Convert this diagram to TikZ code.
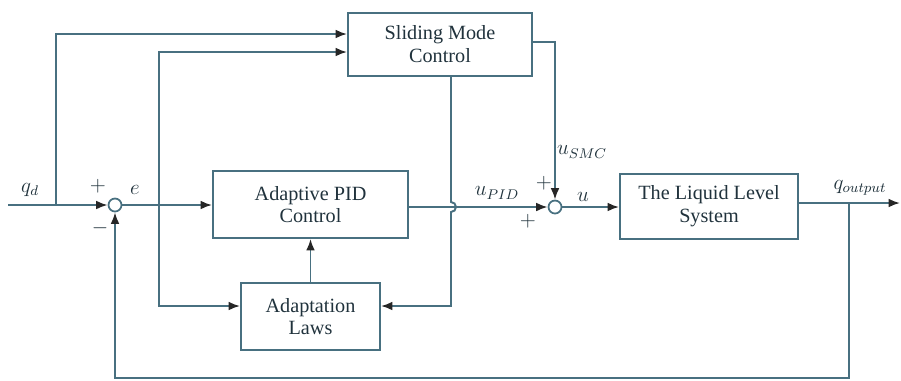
\documentclass[tikz,border=0pt]{standalone}
\usepackage{fontspec}
\setmainfont{Liberation Serif}
\usetikzlibrary{arrows.meta}
\definecolor{wire}{RGB}{72,112,128}
\definecolor{ink}{RGB}{32,50,60}
\begin{document}
\begin{tikzpicture}[x=0.02cm, y=-0.02cm,
    every node/.style={font=\fontsize{11.5}{13}\selectfont, text=ink},
    block/.style={rectangle, draw=wire, line width=1.1pt, align=center, inner sep=0pt},
    sumnode/.style={circle, draw=wire, line width=1pt, minimum size=0.26cm, inner sep=0pt},
    wireline/.style={draw=wire, line width=1.1pt},
    sig/.style={wireline, -{Latex[length=6.5pt, width=5pt, color=black!85]}},
    lbl/.style={inner sep=1pt},
    sign/.style={inner sep=0pt, font=\fontsize{12}{12}\selectfont}
  ]
  \useasboundingbox (0,0) rectangle (901,380);

  \node[block, minimum width=3.68cm, minimum height=1.26cm] (smc) at (440,44.5) {Sliding Mode\\Control};
  \node[block, minimum width=3.9cm, minimum height=1.34cm] (apid) at (310.5,204.5) {Adaptive PID\\Control};
  \node[block, minimum width=2.78cm, minimum height=1.34cm] (adapt) at (310.5,316.5) {Adaptation\\Laws};
  \node[block, minimum width=3.56cm, minimum height=1.3cm] (liquid) at (709,206.5) {The Liquid Level\\System};
  \node[sumnode] (sum1) at (115,205) {};
  \node[sumnode] (sum2) at (555,207) {};

  \coordinate (qin) at (8,205);
  \coordinate (b1) at (56,205);
  \coordinate (t1) at (56,34);
  \coordinate (b2) at (159,205);
  \coordinate (t2) at (159,52);
  \coordinate (d2) at (159,306);
  \coordinate (s1) at (555,42);
  \coordinate (h1) at (451,202);
  \coordinate (s2) at (451,306);
  \coordinate (yout) at (900,203);
  \coordinate (b3) at (849,203);
  \coordinate (f1) at (849,378);

  \draw[wireline] (qin) -- (b1);
  \draw[sig] (b1) -- (sum1.west);
  \draw[sig] (b1) -- (t1) -- (t1 -| smc.west);
  \draw[sig] (sum1.east) -- (sum1 -| apid.west);
  \draw[sig] (b2) -- (t2) -- (t2 -| smc.west);
  \draw[sig] (b2) -- (d2) -- (d2 -| adapt.west);
  \draw[sig] (s1 -| smc.east) -- (s1) -- (sum2.north);
  \draw[sig] (smc.south -| s2) -- (h1) arc[start angle=90, end angle=-90, radius=0.1cm] -- (s2) -- (s2 -| adapt.east);
  \draw[sig] (sum2 -| apid.east) -- (sum2.west);
  \draw[sig] (adapt.north) -- (apid.south);
  \draw[sig] (sum2.east) -- (sum2 -| liquid.west);
  \draw[sig] (yout -| liquid.east) -- (yout);
  \draw[sig] (b3) -- (f1) -- (f1 -| sum1) -- (sum1.south);

  \node[lbl] (lqd) at (30,190) {$q_d$};
  \node[lbl] (le) at (135,190) {$e$};
  \node[lbl] (lpid) at (497,193) {$u_{PID}$};
  \node[lbl] (lsmc) at (582,152) {$u_{SMC}$};
  \node[lbl] (lu) at (583,197) {$u$};
  \node[lbl] (lout) at (860,188) {$q_{output}$};
  \node[sign] (p1) at (98,186) {$+$};
  \node[sign] (m1) at (100,228) {$-$};
  \node[sign] (p2) at (544,183) {$+$};
  \node[sign] (p3) at (528,221) {$+$};
\end{tikzpicture}
\end{document}
